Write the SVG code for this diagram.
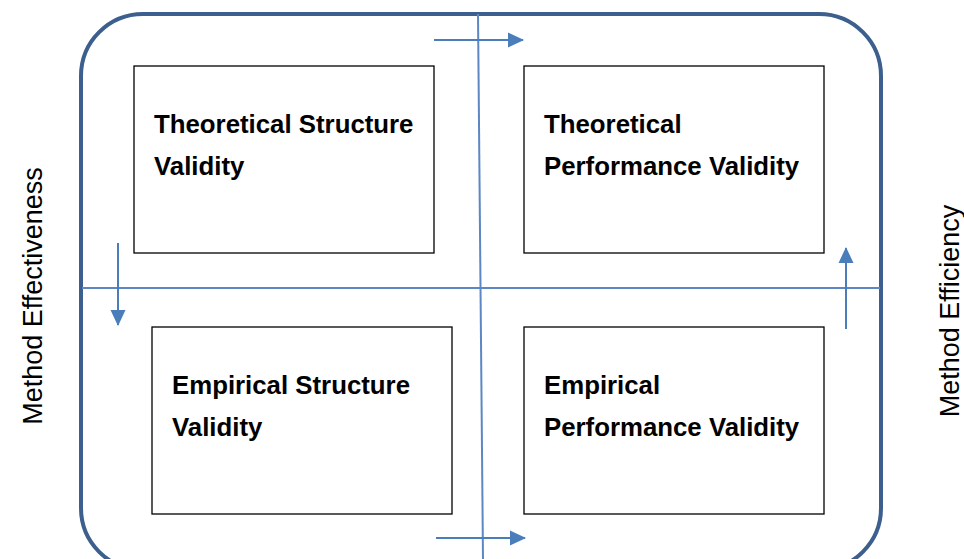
<svg xmlns="http://www.w3.org/2000/svg" width="964" height="559" viewBox="0 0 964 559">
<style>
.box{fill:#fff;stroke:#000;stroke-width:1.3}
.t{font-family:"Liberation Sans",Arial,sans-serif;font-weight:bold;font-size:25.8px;fill:#000}
.side{font-family:"Liberation Sans",Arial,sans-serif;font-size:27px;fill:#000}
.ax{stroke:#5b87c5;stroke-width:2;fill:none}
.ar{stroke:#4a7ebb;stroke-width:2;fill:none;marker-end:url(#ah)}
</style>
<defs>
<marker id="ah" markerWidth="17" markerHeight="17" refX="15" refY="8.5" orient="auto" markerUnits="userSpaceOnUse">
<path d="M0,1 L16,8.5 L0,16 Z" fill="#4a7ebb"/>
</marker>
</defs>
<rect x="81" y="14" width="800" height="556" rx="62" ry="62" fill="none" stroke="#3c5f8e" stroke-width="4"/>
<g id="connectors">
<line class="ax" x1="478" y1="14" x2="483" y2="559"/>
<line class="ax" x1="82" y1="288" x2="880" y2="288"/>
<line class="ar" x1="434" y1="40" x2="523" y2="40"/>
<line class="ar" x1="436" y1="538" x2="525" y2="538"/>
<line class="ar" x1="118" y1="243" x2="118" y2="325"/>
<line class="ar" x1="846" y1="329" x2="846" y2="248"/>
</g>
<g id="tl"><rect class="box" x="134" y="66" width="300" height="187"/>
<text class="t" x="154" y="133">Theoretical Structure</text><text class="t" x="154" y="175">Validity</text></g>
<g id="tr"><rect class="box" x="524" y="66" width="300" height="187"/>
<text class="t" x="544" y="133">Theoretical</text><text class="t" x="544" y="175">Performance Validity</text></g>
<g id="bl"><rect class="box" x="152" y="327" width="300" height="187"/>
<text class="t" x="172" y="394">Empirical Structure</text><text class="t" x="172" y="436">Validity</text></g>
<g id="br"><rect class="box" x="524" y="327" width="300" height="187"/>
<text class="t" x="544" y="394">Empirical</text><text class="t" x="544" y="436">Performance Validity</text></g>
<g id="left-label"><text class="side" transform="translate(42,296) rotate(-90)" text-anchor="middle">Method Effectiveness</text></g>
<g id="right-label"><text class="side" transform="translate(959,311) rotate(-90)" text-anchor="middle">Method Efficiency</text></g>
</svg>
